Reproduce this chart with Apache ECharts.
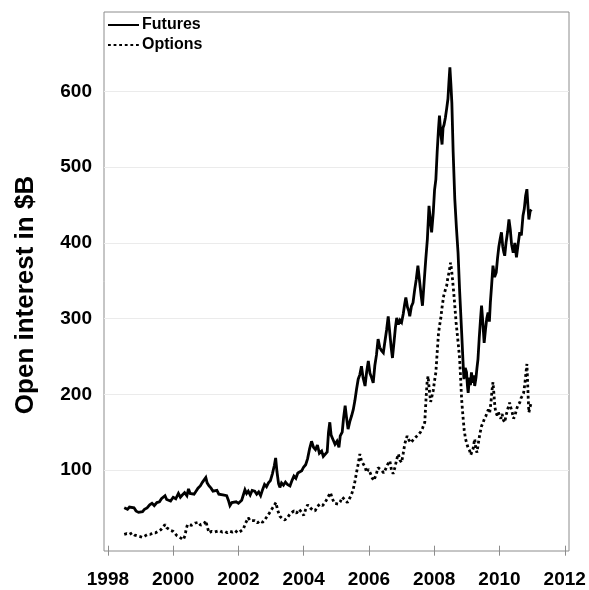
<!DOCTYPE html>
<html>
<head>
<meta charset="utf-8">
<style>
  html, body { margin: 0; padding: 0; background: #ffffff; }
  #chart { width: 589px; height: 590px; }
</style>
<script src="https://cdn.jsdelivr.net/npm/echarts@6/dist/echarts.min.js"></script>
</head>
<body>
<div id="chart"></div>
<script>
// Open interest in $B, futures vs options, mid-1998 to end of 2010
const futuresYears = [
  1998.50,1998.55,1998.60,1998.66,1998.72,1998.80,1998.86,1998.94,1999.00,1999.06,
  1999.12,1999.20,1999.28,1999.35,1999.42,1999.50,1999.58,1999.64,1999.70,1999.75,
  1999.80,1999.86,1999.92,2000.00,2000.08,2000.16,2000.22,2000.28,2000.35,2000.42,
  2000.47,2000.52,2000.58,2000.64,2000.70,2000.76,2000.83,2000.90,2000.96,2001.00,
  2001.04,2001.10,2001.16,2001.22,2001.28,2001.34,2001.40,2001.46,2001.52,2001.58,
  2001.64,2001.70,2001.74,2001.80,2001.86,2001.93,2002.00,2002.05,2002.10,2002.15,
  2002.20,2002.25,2002.30,2002.36,2002.42,2002.50,2002.56,2002.62,2002.68,2002.74,
  2002.80,2002.86,2002.92,2002.98,2003.04,2003.10,2003.14,2003.18,2003.23,2003.27,
  2003.32,2003.38,2003.44,2003.50,2003.58,2003.64,2003.70,2003.76,2003.82,2003.88,
  2003.94,2004.00,2004.06,2004.12,2004.18,2004.24,2004.30,2004.36,2004.42,2004.48,
  2004.55,2004.60,2004.66,2004.72,2004.76,2004.80,2004.84,2004.90,2004.96,2005.02,
  2005.08,2005.12,2005.18,2005.22,2005.27,2005.31,2005.36,2005.42,2005.47,2005.52,
  2005.57,2005.62,2005.67,2005.72,2005.77,2005.82,2005.88,2005.93,2005.98,2006.03,
  2006.08,2006.13,2006.18,2006.23,2006.28,2006.33,2006.38,2006.44,2006.49,2006.54,
  2006.59,2006.64,2006.68,2006.72,2006.77,2006.81,2006.85,2006.90,2006.95,2007.00,
  2007.05,2007.09,2007.13,2007.18,2007.22,2007.25,2007.30,2007.35,2007.40,2007.45,
  2007.50,2007.55,2007.60,2007.64,2007.69,2007.74,2007.79,2007.84,2007.88,2007.92,
  2007.97,2008.01,2008.05,2008.09,2008.13,2008.16,2008.20,2008.24,2008.27,2008.30,
  2008.34,2008.38,2008.42,2008.45,2008.48,2008.51,2008.54,2008.58,2008.63,2008.68,
  2008.73,2008.78,2008.84,2008.88,2008.91,2008.95,2008.99,2009.02,2009.04,2009.08,
  2009.11,2009.14,2009.18,2009.21,2009.24,2009.28,2009.31,2009.34,2009.38,2009.42,
  2009.45,2009.49,2009.53,2009.57,2009.61,2009.65,2009.69,2009.72,2009.76,2009.80,
  2009.85,2009.90,2009.94,2009.98,2010.02,2010.06,2010.10,2010.13,2010.16,2010.20,
  2010.25,2010.29,2010.33,2010.37,2010.42,2010.47,2010.52,2010.57,2010.62,2010.67,
  2010.72,2010.76,2010.80,2010.84,2010.87,2010.90,2010.94,2010.98
];
const futuresValues = [
  50,52,48,51,49,50,46,44,46,45,
  48,50,54,56,53,57,58,62,60,66,
  61,63,59,64,62,69,64,67,70,66,
  75,69,71,68,72,76,79,84,86,90,
  83,79,76,72,70,73,68,70,67,69,
  66,59,53,57,55,58,56,55,60,67,
  74,69,72,67,73,72,68,71,66,74,
  81,78,83,86,95,106,116,98,82,77,
  83,80,84,81,79,86,92,89,96,94,
  99,104,107,115,128,138,130,127,133,122,
  125,118,116,124,150,163,146,140,134,138,
  130,145,150,168,185,170,154,165,172,180,
  192,207,220,226,237,222,211,230,244,228,
  222,215,238,252,273,262,258,255,270,285,
  303,280,262,248,270,288,301,292,298,295,
  306,318,328,315,310,303,316,321,338,352,
  370,350,330,317,348,378,405,449,430,414,
  440,470,484,520,550,568,545,530,552,556,
  565,577,590,612,632,610,585,520,458,420,
  387,335,282,245,220,235,229,210,202,222,
  212,229,215,225,211,222,235,246,275,300,
  317,295,268,285,300,308,296,321,345,370,
  355,361,380,395,405,414,395,388,383,400,
  415,431,418,398,387,400,381,398,414,410,
  436,445,462,471,450,431,442,444
];

const optionsYears = [
  1998.50,1998.58,1998.66,1998.74,1998.82,1998.90,1998.99,1999.06,1999.14,1999.22,
  1999.30,1999.38,1999.46,1999.54,1999.62,1999.70,1999.75,1999.80,1999.86,1999.93,
  2000.00,2000.06,2000.12,2000.20,2000.26,2000.31,2000.36,2000.40,2000.44,2000.50,
  2000.56,2000.62,2000.68,2000.74,2000.78,2000.84,2000.90,2000.96,2001.00,2001.05,
  2001.10,2001.18,2001.26,2001.34,2001.42,2001.50,2001.58,2001.66,2001.74,2001.82,
  2001.90,2001.98,2002.06,2002.15,2002.22,2002.30,2002.36,2002.42,2002.50,2002.58,
  2002.66,2002.74,2002.82,2002.90,2002.96,2003.02,2003.08,2003.15,2003.20,2003.27,
  2003.34,2003.42,2003.50,2003.58,2003.64,2003.70,2003.78,2003.86,2003.94,2004.00,
  2004.06,2004.12,2004.20,2004.28,2004.35,2004.42,2004.50,2004.58,2004.65,2004.72,
  2004.78,2004.82,2004.88,2004.94,2005.00,2005.06,2005.12,2005.18,2005.22,2005.28,
  2005.34,2005.40,2005.46,2005.52,2005.57,2005.62,2005.67,2005.72,2005.77,2005.82,
  2005.88,2005.93,2005.98,2006.04,2006.09,2006.15,2006.22,2006.28,2006.34,2006.40,
  2006.45,2006.52,2006.58,2006.64,2006.69,2006.74,2006.80,2006.85,2006.90,2006.95,
  2007.00,2007.05,2007.10,2007.17,2007.22,2007.28,2007.34,2007.40,2007.46,2007.52,
  2007.58,2007.64,2007.71,2007.75,2007.78,2007.81,2007.85,2007.89,2007.92,2007.97,
  2008.01,2008.05,2008.09,2008.13,2008.16,2008.20,2008.24,2008.29,2008.34,2008.38,
  2008.42,2008.46,2008.50,2008.53,2008.56,2008.60,2008.63,2008.67,2008.70,2008.74,
  2008.78,2008.81,2008.84,2008.88,2008.92,2008.96,2009.01,2009.05,2009.09,2009.12,
  2009.15,2009.19,2009.22,2009.24,2009.27,2009.31,2009.35,2009.40,2009.45,2009.50,
  2009.54,2009.58,2009.62,2009.66,2009.70,2009.74,2009.77,2009.80,2009.83,2009.86,
  2009.89,2009.93,2009.97,2010.00,2010.04,2010.08,2010.12,2010.16,2010.20,2010.25,
  2010.31,2010.35,2010.39,2010.43,2010.47,2010.52,2010.57,2010.62,2010.66,2010.70,
  2010.74,2010.78,2010.82,2010.84,2010.86,2010.88,2010.90,2010.93,2010.96
];
const optionsValues = [
  15,16,15,17,14,13,12,11,13,15,
  15,17,17,19,21,25,28,24,22,20,
  19,17,13,11,9,8,13,22,28,26,
  27,25,30,29,31,27,29,30,33,24,
  17,19,18,19,20,18,19,17,19,18,
  20,17,19,22,30,37,33,31,33,30,
  33,31,35,40,44,48,52,57,47,39,
  36,34,37,42,44,46,43,48,44,40,
  48,54,50,47,46,52,55,53,57,62,
  67,70,62,56,55,55,58,64,66,60,
  57,62,67,75,85,97,108,121,112,110,
  104,97,101,96,90,86,94,103,105,99,
  96,102,108,112,100,95,104,114,121,113,
  110,122,135,145,140,136,138,142,141,147,
  150,155,163,195,215,224,205,190,189,205,
  218,229,255,280,290,300,315,330,338,343,
  355,362,374,365,352,333,317,295,282,265,
  246,220,193,171,152,141,133,128,125,120,
  118,128,136,141,130,123,135,148,158,163,
  168,171,176,180,176,190,205,216,200,183,
  176,172,176,171,168,174,166,163,172,180,
  189,182,176,168,171,180,186,189,195,198,
  202,215,232,240,218,195,176,182,187
];

const yearTicks = [1998, 2000, 2002, 2004, 2006, 2008, 2010, 2012];
const valueTicks = [100, 200, 300, 400, 500, 600];

const pairs = (xs, ys) => xs.map((x, i) => [x, ys[i]]);

const FONT = '"Liberation Sans", Arial, Helvetica, sans-serif';

const chart = echarts.init(document.getElementById('chart'), null, { renderer: 'canvas' });

chart.setOption({
  animation: false,
  backgroundColor: '#ffffff',
  grid: {
    left: 104, right: 20, top: 12, bottom: 39,
    show: true, borderColor: '#8c8c8c', borderWidth: 1, backgroundColor: 'transparent'
  },
  legend: {
    orient: 'vertical',
    left: 104, top: 17,
    itemWidth: 31, itemHeight: 12, itemGap: 4,
    padding: [0, 0, 0, 3],
    // hide the marker glyph so only the line sample is drawn
    itemStyle: { color: 'rgba(0,0,0,0)', borderWidth: 0, opacity: 0 },
    textStyle: { fontFamily: FONT, fontWeight: 'bold', fontSize: 16, color: '#000', padding: [0, 0, 0, -2] },
    data: ['Futures', 'Options']
  },
  xAxis: {
    type: 'value',
    min: 1997.88, max: 2012.13,
    axisLine: { show: false },
    axisTick: { show: true, length: 10, lineStyle: { color: '#8c8c8c', width: 1 }, customValues: yearTicks },
    axisLabel: {
      customValues: yearTicks,
      fontFamily: FONT, fontWeight: 'bold', fontSize: 19, color: '#000',
      margin: 19, showMaxLabel: true, showMinLabel: true,
      formatter: v => String(v)
    },
    splitLine: { show: false }
  },
  yAxis: {
    type: 'value',
    min: -7, max: 705,
    axisLine: { show: false },
    axisTick: { show: false, customValues: valueTicks },
    axisLabel: {
      customValues: valueTicks,
      fontFamily: FONT, fontWeight: 'bold', fontSize: 19, color: '#000',
      margin: 12
    },
    splitLine: { show: true, customValues: valueTicks, lineStyle: { color: '#ebebeb', width: 1 } }
  },
  graphic: [{
    type: 'text',
    x: 26, y: 295,
    rotation: Math.PI / 2,
    style: {
      text: 'Open interest in $B',
      font: 'bold 26px "Liberation Sans", Arial, sans-serif',
      fill: '#000',
      textAlign: 'center',
      textVerticalAlign: 'middle'
    }
  }],
  series: [
    {
      name: 'Futures',
      type: 'line',
      data: pairs(futuresYears, futuresValues),
      symbol: 'none',
      showSymbol: false,
      lineStyle: { color: '#000', width: 2.8, join: 'miter', miterLimit: 3 },
      itemStyle: { color: '#000' },
      z: 3
    },
    {
      name: 'Options',
      type: 'line',
      data: pairs(optionsYears, optionsValues),
      symbol: 'none',
      showSymbol: false,
      lineStyle: { color: '#000', width: 2.8, type: [2.8, 2.8], cap: 'butt' },
      itemStyle: { color: '#000' },
      z: 2
    }
  ]
});
</script>
</body>
</html>
